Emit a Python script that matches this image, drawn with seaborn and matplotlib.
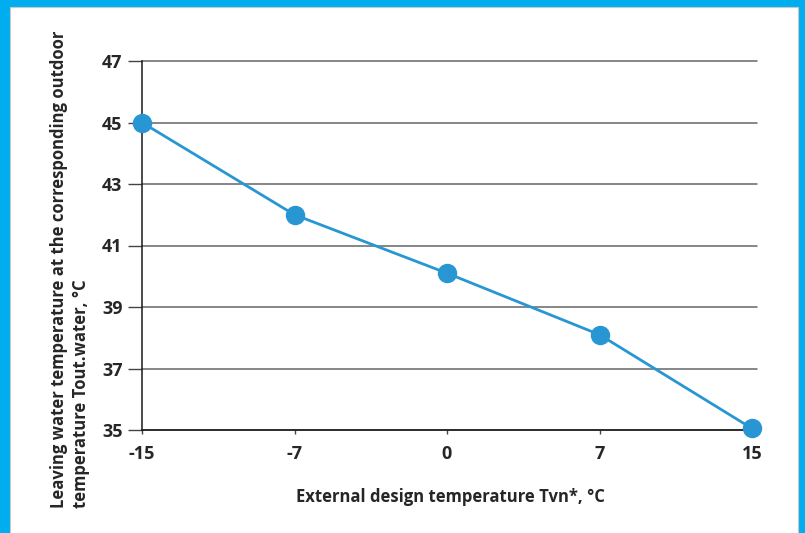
import matplotlib
matplotlib.use('Agg')
import matplotlib.pyplot as plt
import seaborn as sns
import pandas as pd
from matplotlib.patches import Rectangle

sns.set_style('white')
plt.rcParams['font.family'] = ['Open Sans', 'DejaVu Sans']

# data
outdoor_labels = ['-15', '-7', '0', '7', '15']
leaving_temp = [45.0, 42.0, 40.1, 38.1, 35.05]
y_ticks = [35, 37, 39, 41, 43, 45, 47]

df = pd.DataFrame({'outdoor': outdoor_labels, 'leaving': leaving_temp})
df['pos'] = range(len(df))

fig = plt.figure(figsize=(8.05, 5.33), dpi=100)
W, H = 805, 533

# cyan frame (top, left, right)
fig.patches.append(Rectangle((0, 0), 1, 1, transform=fig.transFigure,
                             facecolor='#00AEEF', edgecolor='none', zorder=-10))
fig.patches.append(Rectangle((10 / W, -0.01), (798 - 10) / W, (526 + 5) / H,
                             transform=fig.transFigure, facecolor='white',
                             edgecolor='#c8c8c8', linewidth=0.8, zorder=-9))

ax = fig.add_axes([142 / W, (H - 430) / H, (757 - 142) / W, (430 - 61) / H])
ax.set_facecolor('none')

for t in y_ticks:
    ax.axhline(t, color='#1a1a1a' if t == 35 else '#666666',
               lw=1.3 if t == 35 else 1.1, zorder=1)

sns.lineplot(data=df, x='pos', y='leaving', ax=ax, color='#2796D3',
             lw=2, marker='o', markersize=14, markeredgewidth=0, zorder=3)
for l in ax.lines:
    l.set_clip_on(False)

ax.set_xlim(0, 4 + 5 / 152.5)
ax.set_ylim(35, 47)
ax.set_xticks(df['pos'])
ax.set_xticklabels(outdoor_labels)
ax.set_yticks(y_ticks)
ax.tick_params(axis='y', length=10, width=1, color='#444444', pad=4,
               labelsize=13, left=True)
ax.tick_params(axis='x', length=3, width=1, color='#444444', pad=8,
               labelsize=13, bottom=True)
for lab in ax.get_xticklabels() + ax.get_yticklabels():
    lab.set_fontweight('bold')

for s in ['top', 'right', 'bottom']:
    ax.spines[s].set_visible(False)
ax.spines['left'].set_color('#1a1a1a')
ax.spines['left'].set_linewidth(1.1)
ax.set_xlabel('')
ax.set_ylabel('')

fig.text(450 / W, 1 - 497 / H, 'External design temperature Tvn*, °C',
         ha='center', va='center', fontsize=12, fontweight='bold')
fig.text(70 / W, 1 - 508 / H,
         'Leaving water temperature at the corresponding outdoor\ntemperature Tout.water, °C',
         rotation=90, ha='center', va='bottom', multialignment='left',
         fontsize=12, fontweight='bold', linespacing=1.35)

fig.savefig('out.png', dpi=100)
plt.close()
